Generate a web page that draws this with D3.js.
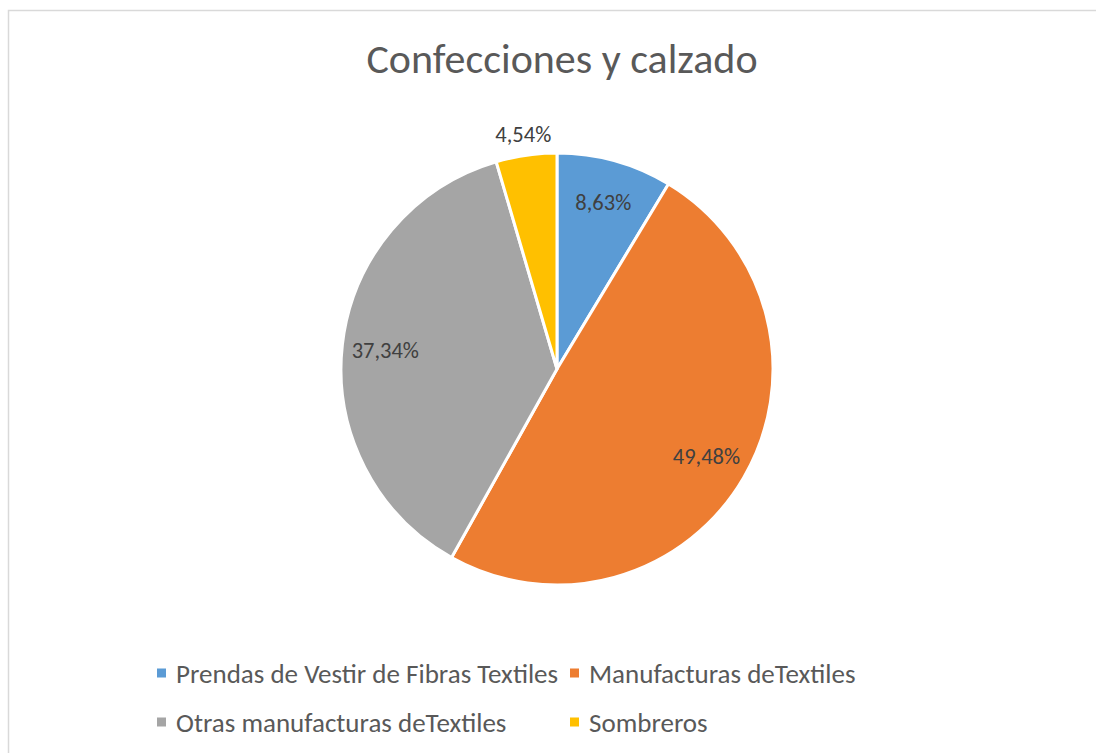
<!DOCTYPE html>
<html>
<head>
<meta charset="utf-8">
<script src="https://cdn.jsdelivr.net/npm/d3@7"></script>
<style>
  body { margin: 0; background: #fff; }
  svg { display: block; }
  text { font-family: Calibri, Carlito, Lato, "Open Sans", sans-serif; }
</style>
</head>
<body>
<div id="chart"></div>
<script>
"use strict";
// data
var categories = ["Prendas de Vestir de Fibras Textiles", "Manufacturas deTextiles", "Otras manufacturas deTextiles", "Sombreros"];
var shares = [8.63, 49.48, 37.34, 4.54];
var colors = ["#5b9bd5", "#ed7d31", "#a5a5a5", "#ffc000"];
var title = "Confecciones y calzado";

(function() {
  var width = 1096, height = 753;
  var cx = 557, cy = 369, radius = 216;
  var svg, pie, arc, labelArc, outArc, slices, fmt, legend;

  svg = d3.select("#chart").append("svg")
    .attr("width", width)
    .attr("height", height);

  // chart border
  svg.append("rect")
    .attr("x", 8.5).attr("y", 10.5)
    .attr("width", width + 20).attr("height", height + 20)
    .attr("fill", "none")
    .attr("stroke", "#d9d9d9")
    .attr("stroke-width", 1.5);

  // title
  svg.append("text")
    .attr("x", 562).attr("y", 73)
    .attr("text-anchor", "middle")
    .attr("fill", "#595959")
    .style("font-size", "42px")
    .text(title);

  pie = d3.pie().sort(null).value(function(d) { return d; });
  arc = d3.arc().innerRadius(0).outerRadius(radius);
  labelArc = d3.arc().innerRadius(radius * 0.8).outerRadius(radius * 0.8);
  outArc = d3.arc().innerRadius(radius + 21).outerRadius(radius + 21);
  fmt = function(v) { return v.toFixed(2).replace(".", ",") + "%"; };

  slices = svg.append("g")
    .attr("transform", "translate(" + cx + "," + cy + ")")
    .selectAll("g.slice")
    .data(pie(shares))
    .enter().append("g")
    .attr("class", "slice");

  slices.append("path")
    .attr("d", arc)
    .attr("fill", function(d, i) { return colors[i]; })
    .attr("stroke", "#fff")
    .attr("stroke-width", 3)
    .attr("stroke-linejoin", "round");

  slices.append("text")
    .attr("transform", function(d) {
      var c = (d.data < 5 ? outArc : labelArc).centroid(d);
      return "translate(" + c[0] + "," + c[1] + ")";
    })
    .attr("text-anchor", "middle")
    .attr("dy", "0.35em")
    .attr("fill", "#404040")
    .style("font-size", "22.5px")
    .text(function(d) { return fmt(d.data); });

  // legend, two rows
  var legendPos = [[157, 673], [570, 673], [157, 722], [570, 722]];
  legend = svg.append("g").selectAll("g.item")
    .data(categories)
    .enter().append("g")
    .attr("class", "item")
    .attr("transform", function(d, i) { return "translate(" + legendPos[i][0] + "," + legendPos[i][1] + ")"; });

  legend.append("rect")
    .attr("x", 0).attr("y", -4.5)
    .attr("width", 9).attr("height", 9)
    .attr("fill", function(d, i) { return colors[i]; });

  legend.append("text")
    .attr("x", 19).attr("y", 10)
    .attr("fill", "#595959")
    .style("font-size", "27px")
    .text(function(d) { return d; });
})();
</script>
</body>
</html>
